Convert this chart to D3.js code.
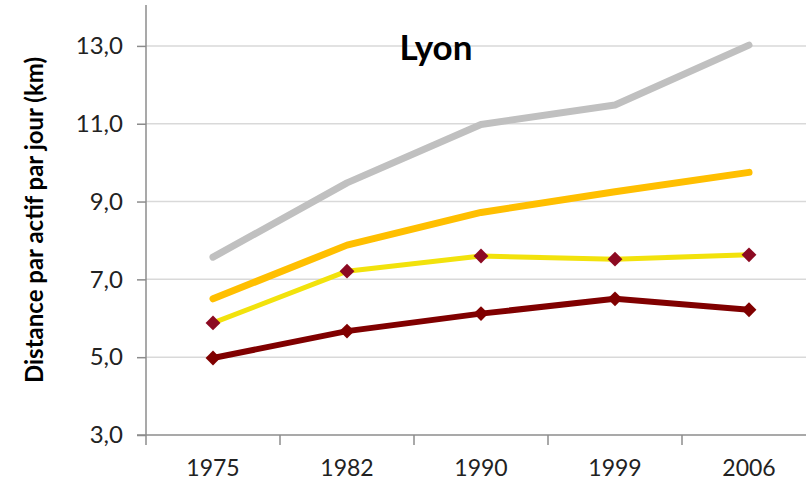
<!DOCTYPE html>
<html>
<head>
<meta charset="utf-8">
<script src="https://cdn.jsdelivr.net/npm/d3@7"></script>
<style>
  body { margin: 0; background: #fff; }
  text { font-family: Lato, "Open Sans", sans-serif; }
</style>
</head>
<body>
<svg id="chart" width="806" height="492"></svg>
<script>
var years = ['1975', '1982', '1990', '1999', '2006']
var yTicks = [3, 5, 7, 9, 11, 13]
var grayValues = [7.57, 9.48, 10.98, 11.48, 13.02]
var orangeValues = [6.5, 7.88, 8.72, 9.25, 9.75]
var yellowValues = [5.88, 7.21, 7.6, 7.52, 7.63]
var redValues = [4.98, 5.67, 6.12, 6.5, 6.22]

var series = [
  { name: 'gray', values: grayValues, color: '#c0c0c0', width: 7, marker: null },
  { name: 'orange', values: orangeValues, color: '#ffbf00', width: 7, marker: null },
  { name: 'yellow', values: yellowValues, color: '#f2e20c', width: 5, marker: '#8c0a22' },
  { name: 'red', values: redValues, color: '#800000', width: 6, marker: '#800000' }
]

var svg = d3.select('#chart')
var plotLeft = 146, plotRight = 816, plotTop = 7, plotBottom = 435

var x = d3.scaleBand().domain(years).range([plotLeft, plotRight])
var y = d3.scaleLinear().domain([3, 14]).range([plotBottom, plotTop])

/** gridlines */
svg.append('g').selectAll('line').data(yTicks.slice(1)).enter().append('line')
  .attr('x1', plotLeft).attr('x2', 806)
  .attr('y1', function (d) { return y(d) }).attr('y2', function (d) { return y(d) })
  .style('stroke', '#d9d9d9').style('stroke-width', 1.5)

/** title */
svg.append('text').attr('x', 436).attr('y', 60).attr('text-anchor', 'middle')
  .style('font-size', '35px').style('font-weight', 'bold').style('fill', '#000').text('Lyon')

/** y axis */
var yAxis = svg.append('g').attr('transform', 'translate(' + plotLeft + ',0)')
  .call(d3.axisLeft(y).tickValues(yTicks).tickSize(9).tickPadding(14)
    .tickFormat(function (d) { return d3.format('.1f')(d).replace('.', ',') }))
yAxis.select('.domain').attr('d', 'M0,5V' + plotBottom).style('stroke', '#8c8c8c').style('stroke-width', 1.5)
yAxis.selectAll('.tick line').style('stroke', '#8c8c8c').style('stroke-width', 1.5)
yAxis.selectAll('.tick text').style('font-size', '24px').style('fill', '#222').style('font-family', 'Lato, "Open Sans", sans-serif')

/** x axis */
var xAxis = svg.append('g').attr('transform', 'translate(0,' + plotBottom + ')')
  .call(d3.axisBottom(x).tickSize(0).tickPadding(25))
xAxis.select('.domain').attr('d', 'M' + (plotLeft - 9) + ',0H806').style('stroke', '#8c8c8c').style('stroke-width', 1.5)
xAxis.selectAll('.tick text').style('font-size', '23px').style('fill', '#222').style('font-family', 'Lato, "Open Sans", sans-serif')
svg.append('g').selectAll('line').data(years).enter().append('line')
  .attr('x1', function (d) { return x(d) }).attr('x2', function (d) { return x(d) })
  .attr('y1', plotBottom).attr('y2', plotBottom + 10)
  .style('stroke', '#8c8c8c').style('stroke-width', 1.5)

/** y label */
svg.append('text').attr('transform', 'translate(43,220) rotate(-90)')
  .attr('text-anchor', 'middle').style('font-size', '24px').style('font-weight', 'bold')
  .style('fill', '#000').text('Distance par actif par jour (km)')

/** lines */
var line = d3.line()
  .x(function (d, i) { return x(years[i]) + x.bandwidth() / 2 })
  .y(function (d) { return y(d) })

series.forEach(function (s) {
  svg.append('path').datum(s.values).attr('d', line)
    .style('fill', 'none').style('stroke', s.color).style('stroke-width', s.width)
    .style('stroke-linecap', 'round').style('stroke-linejoin', 'round')
  if (s.marker) {
    svg.append('g').selectAll('path').data(s.values).enter().append('path')
      .attr('d', d3.symbol().type(d3.symbolSquare).size(110))
      .attr('transform', function (d, i) {
        return 'translate(' + (x(years[i]) + x.bandwidth() / 2) + ',' + y(d) + ') rotate(45)'
      })
      .style('fill', s.marker)
  }
})
</script>
</body>
</html>
